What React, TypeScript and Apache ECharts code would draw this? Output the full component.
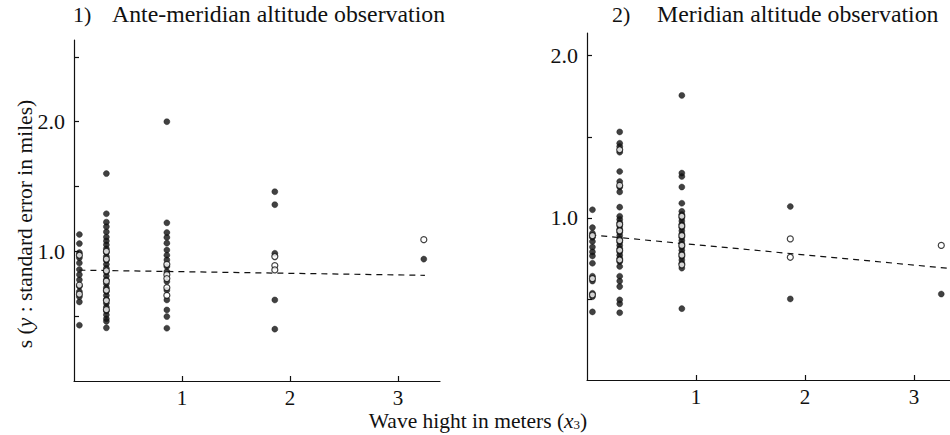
import React, { useEffect, useRef } from "react";
import * as echarts from "echarts";

const FONT = "Liberation Serif";
const INK = "#111";

// Panel 1: ante-meridian altitude observation
const leftColumnX = [0.05, 0.3, 0.86, 1.86, 3.24];
const leftFilled: number[][] = [
  [1.13, 1.06, 0.99, 0.95, 0.91, 0.86, 0.82, 0.78, 0.73, 0.69, 0.65, 0.61, 0.43],
  [1.6, 1.29, 1.225, 1.19, 1.15, 1.11, 1.08, 1.05, 1.02, 0.99, 0.96, 0.93, 0.9, 0.87, 0.84, 0.81, 0.78, 0.75, 0.72, 0.69, 0.66, 0.63, 0.6, 0.57, 0.54, 0.51, 0.48, 0.46, 0.41],
  [2.0, 1.22, 1.145, 1.107, 1.063, 1.01, 0.97, 0.934, 0.883, 0.844, 0.767, 0.7, 0.625, 0.548, 0.497, 0.407],
  [1.46, 1.36, 0.985, 0.625, 0.4],
  [0.94],
];
const leftHollow: number[][] = [
  [0.97, 0.74, 0.67],
  [1.0, 0.94, 0.85, 0.77, 0.7, 0.62, 0.55],
  [0.9, 0.82, 0.79, 0.72, 0.66],
  [0.96, 0.89, 0.857],
  [1.09],
];
const leftTrend = [[0.05, 0.855], [3.25, 0.815]];

// Panel 2: meridian altitude observation
const rightColumnX = [0.05, 0.3, 0.87, 1.865, 3.25];
const rightFilled: number[][] = [
  [1.05, 0.94, 0.905, 0.88, 0.854, 0.82, 0.79, 0.765, 0.72, 0.64, 0.61, 0.535, 0.514, 0.42],
  [1.53, 1.46, 1.44, 1.405, 1.286, 1.224, 1.19, 1.16, 1.066, 1.01, 0.99, 0.97, 0.95, 0.93, 0.91, 0.89, 0.87, 0.85, 0.83, 0.81, 0.79, 0.77, 0.75, 0.73, 0.7, 0.64, 0.61, 0.576, 0.494, 0.47, 0.415],
  [1.755, 1.276, 1.255, 1.19, 1.09, 1.04, 1.02, 1.0, 0.98, 0.96, 0.94, 0.92, 0.9, 0.88, 0.86, 0.84, 0.82, 0.8, 0.78, 0.76, 0.74, 0.72, 0.69, 0.44],
  [1.07, 0.5],
  [0.53],
];
const rightHollow: number[][] = [
  [0.89, 0.625, 0.525],
  [1.42, 1.2, 0.96, 0.92, 0.86, 0.8, 0.74],
  [1.01, 0.95, 0.89, 0.83, 0.77, 0.71],
  [0.87, 0.757],
  [0.83],
];
const rightTrend = [[0.03, 0.895], [3.3, 0.69]];

const xTickValues = [1, 2, 3];
const leftYTicks = [0.5, 1, 1.5, 2, 2.5];
const rightYTicks = [0.5, 1, 1.5, 2];
const yLabelValues = [1, 2];

const titles = ["Ante-meridian altitude observation", "Meridian altitude observation"];
const titleNumbers = ["1)", "2)"];

function toPoints(xs: number[], cols: number[][]) {
  const out: number[][] = [];
  cols.forEach((vals, i) => vals.forEach((v) => out.push([xs[i], v])));
  return out;
}

function xAxis(gridIndex: number, max: number) {
  return {
    gridIndex,
    type: "value",
    min: 0,
    max,
    axisLine: { show: true, lineStyle: { color: INK, width: 1.2 } },
    axisTick: { show: true, inside: true, length: 5, customValues: xTickValues, lineStyle: { color: INK, width: 1.2 } },
    axisLabel: {
      customValues: xTickValues,
      formatter: (v: number) => String(v),
      fontFamily: FONT,
      fontSize: 21,
      color: INK,
      margin: 6,
    },
    splitLine: { show: false },
  };
}

function yAxis(gridIndex: number, max: number, ticks: number[]) {
  return {
    gridIndex,
    type: "value",
    min: 0,
    max,
    axisLine: { show: true, lineStyle: { color: INK, width: 1.2 } },
    axisTick: { show: true, inside: true, length: 5, customValues: ticks, lineStyle: { color: INK, width: 1.2 } },
    axisLabel: {
      customValues: yLabelValues,
      formatter: (v: number) => v.toFixed(1),
      fontFamily: FONT,
      fontSize: 22,
      color: INK,
      margin: 9,
    },
    splitLine: { show: false },
  };
}

function dots(idx: number, data: number[][], hollow: boolean) {
  return {
    type: "scatter",
    xAxisIndex: idx,
    yAxisIndex: idx,
    data,
    symbol: "circle",
    symbolSize: 6,
    itemStyle: hollow
      ? { color: "#fff", borderColor: INK, borderWidth: 1.2 }
      : { color: INK, borderColor: INK, borderWidth: 0.5 },
    z: hollow ? 3 : 2,
  };
}

function trend(idx: number, data: number[][]) {
  return {
    type: "line",
    xAxisIndex: idx,
    yAxisIndex: idx,
    data,
    symbol: "none",
    lineStyle: { color: INK, width: 1.2, type: [6, 5] },
    z: 1,
  };
}

export default function App() {
  const ref = useRef<HTMLDivElement>(null);
  useEffect(() => {
    if (!ref.current) return;
    const chart = echarts.init(ref.current, null, { renderer: "svg" });
    const textBase = { fontFamily: FONT, fill: INK };
    chart.setOption({
      animation: false,
      backgroundColor: "#fff",
      grid: [
        { left: 74, top: 40, width: 366, height: 341 },
        { left: 587, top: 33, width: 363, height: 347 },
      ],
      xAxis: [xAxis(0, 3.39), xAxis(1, 3.33)],
      yAxis: [yAxis(0, 2.63, leftYTicks), yAxis(1, 2.14, rightYTicks)],
      series: [
        trend(0, leftTrend),
        dots(0, toPoints(leftColumnX, leftFilled), false),
        dots(0, toPoints(leftColumnX, leftHollow), true),
        trend(1, rightTrend),
        dots(1, toPoints(rightColumnX, rightFilled), false),
        dots(1, toPoints(rightColumnX, rightHollow), true),
      ],
      graphic: [
        { type: "text", left: 73, top: 3, style: { ...textBase, text: titleNumbers[0], fontSize: 22 } },
        { type: "text", left: 112, top: 2, style: { ...textBase, text: titles[0], fontSize: 23.8 } },
        { type: "text", left: 612, top: 3, style: { ...textBase, text: titleNumbers[1], fontSize: 22 } },
        { type: "text", left: 657, top: 2, style: { ...textBase, text: titles[1], fontSize: 23.8 } },
        {
          type: "text",
          x: 25,
          y: 224,
          rotation: Math.PI / 2,
          style: {
            ...textBase,
            text: "s ({i|y} : standard error in miles)",
            fontSize: 21.5,
            align: "center",
            verticalAlign: "middle",
            rich: { i: { fontFamily: FONT, fontSize: 21.5, fontStyle: "italic", fill: INK } },
          },
        },
        {
          type: "text",
          x: 478,
          y: 421,
          style: {
            ...textBase,
            text: "Wave hight in meters ({i|x}{s|3})",
            fontSize: 21.5,
            align: "center",
            verticalAlign: "middle",
            rich: {
              i: { fontFamily: FONT, fontSize: 21.5, fontStyle: "italic", fill: INK },
              s: { fontFamily: FONT, fontSize: 13, fill: INK, padding: [7, 0, 0, 0] },
            },
          },
        },
      ],
    });
    return () => chart.dispose();
  }, []);
  return (
    <div
      ref={ref}
      style={{ position: "absolute", left: 0, top: 0, width: 950, height: 435, background: "#fff" }}
    />
  );
}
